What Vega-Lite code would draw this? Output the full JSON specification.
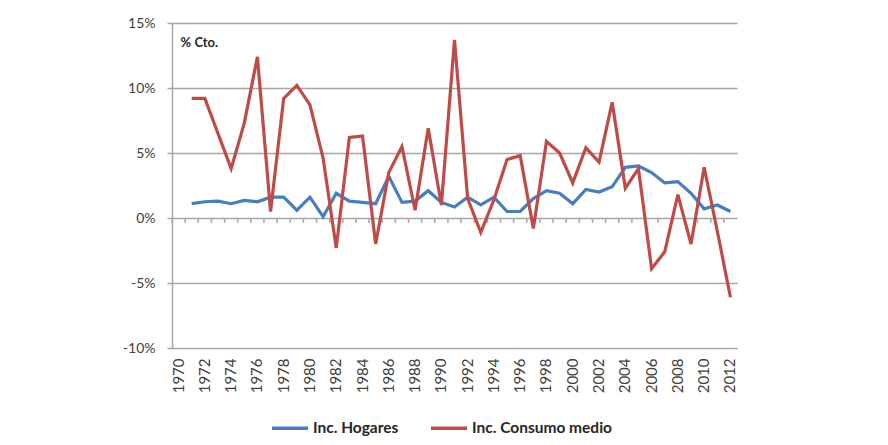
{
  "$schema": "https://vega.github.io/schema/vega-lite/v6.json",
  "width": 565,
  "height": 325,
  "autosize": {"type": "none"},
  "padding": {"left": 172, "top": 23, "right": 151, "bottom": 97},
  "background": "white",
  "config": {"view": {"stroke": null}, "font": "Lato"},
  "datasets": {
    "anios": [
      {"anio": "1970"},{"anio": "1971"},{"anio": "1972"},{"anio": "1973"},{"anio": "1974"},{"anio": "1975"},{"anio": "1976"},{"anio": "1977"},{"anio": "1978"},{"anio": "1979"},
      {"anio": "1980"},{"anio": "1981"},{"anio": "1982"},{"anio": "1983"},{"anio": "1984"},{"anio": "1985"},{"anio": "1986"},{"anio": "1987"},{"anio": "1988"},{"anio": "1989"},
      {"anio": "1990"},{"anio": "1991"},{"anio": "1992"},{"anio": "1993"},{"anio": "1994"},{"anio": "1995"},{"anio": "1996"},{"anio": "1997"},{"anio": "1998"},{"anio": "1999"},
      {"anio": "2000"},{"anio": "2001"},{"anio": "2002"},{"anio": "2003"},{"anio": "2004"},{"anio": "2005"},{"anio": "2006"},{"anio": "2007"},{"anio": "2008"},{"anio": "2009"},
      {"anio": "2010"},{"anio": "2011"},{"anio": "2012"}
    ],
    "series": [
      {"anio": "1971", "serie": "Inc. Hogares", "valor": 1.1},
      {"anio": "1972", "serie": "Inc. Hogares", "valor": 1.25},
      {"anio": "1973", "serie": "Inc. Hogares", "valor": 1.3},
      {"anio": "1974", "serie": "Inc. Hogares", "valor": 1.1},
      {"anio": "1975", "serie": "Inc. Hogares", "valor": 1.35},
      {"anio": "1976", "serie": "Inc. Hogares", "valor": 1.25},
      {"anio": "1977", "serie": "Inc. Hogares", "valor": 1.6},
      {"anio": "1978", "serie": "Inc. Hogares", "valor": 1.6},
      {"anio": "1979", "serie": "Inc. Hogares", "valor": 0.6},
      {"anio": "1980", "serie": "Inc. Hogares", "valor": 1.6},
      {"anio": "1981", "serie": "Inc. Hogares", "valor": 0.1},
      {"anio": "1982", "serie": "Inc. Hogares", "valor": 1.9},
      {"anio": "1983", "serie": "Inc. Hogares", "valor": 1.3},
      {"anio": "1984", "serie": "Inc. Hogares", "valor": 1.2},
      {"anio": "1985", "serie": "Inc. Hogares", "valor": 1.1},
      {"anio": "1986", "serie": "Inc. Hogares", "valor": 3.2},
      {"anio": "1987", "serie": "Inc. Hogares", "valor": 1.2},
      {"anio": "1988", "serie": "Inc. Hogares", "valor": 1.3},
      {"anio": "1989", "serie": "Inc. Hogares", "valor": 2.1},
      {"anio": "1990", "serie": "Inc. Hogares", "valor": 1.2},
      {"anio": "1991", "serie": "Inc. Hogares", "valor": 0.85},
      {"anio": "1992", "serie": "Inc. Hogares", "valor": 1.6},
      {"anio": "1993", "serie": "Inc. Hogares", "valor": 1.0},
      {"anio": "1994", "serie": "Inc. Hogares", "valor": 1.6},
      {"anio": "1995", "serie": "Inc. Hogares", "valor": 0.5},
      {"anio": "1996", "serie": "Inc. Hogares", "valor": 0.5},
      {"anio": "1997", "serie": "Inc. Hogares", "valor": 1.5},
      {"anio": "1998", "serie": "Inc. Hogares", "valor": 2.1},
      {"anio": "1999", "serie": "Inc. Hogares", "valor": 1.9},
      {"anio": "2000", "serie": "Inc. Hogares", "valor": 1.1},
      {"anio": "2001", "serie": "Inc. Hogares", "valor": 2.2},
      {"anio": "2002", "serie": "Inc. Hogares", "valor": 2.0},
      {"anio": "2003", "serie": "Inc. Hogares", "valor": 2.4},
      {"anio": "2004", "serie": "Inc. Hogares", "valor": 3.9},
      {"anio": "2005", "serie": "Inc. Hogares", "valor": 4.0},
      {"anio": "2006", "serie": "Inc. Hogares", "valor": 3.5},
      {"anio": "2007", "serie": "Inc. Hogares", "valor": 2.7},
      {"anio": "2008", "serie": "Inc. Hogares", "valor": 2.8},
      {"anio": "2009", "serie": "Inc. Hogares", "valor": 1.9},
      {"anio": "2010", "serie": "Inc. Hogares", "valor": 0.7},
      {"anio": "2011", "serie": "Inc. Hogares", "valor": 1.0},
      {"anio": "2012", "serie": "Inc. Hogares", "valor": 0.5},
      {"anio": "1971", "serie": "Inc. Consumo medio", "valor": 9.2},
      {"anio": "1972", "serie": "Inc. Consumo medio", "valor": 9.2},
      {"anio": "1973", "serie": "Inc. Consumo medio", "valor": 6.5},
      {"anio": "1974", "serie": "Inc. Consumo medio", "valor": 3.8},
      {"anio": "1975", "serie": "Inc. Consumo medio", "valor": 7.3},
      {"anio": "1976", "serie": "Inc. Consumo medio", "valor": 12.4},
      {"anio": "1977", "serie": "Inc. Consumo medio", "valor": 0.5},
      {"anio": "1978", "serie": "Inc. Consumo medio", "valor": 9.2},
      {"anio": "1979", "serie": "Inc. Consumo medio", "valor": 10.2},
      {"anio": "1980", "serie": "Inc. Consumo medio", "valor": 8.7},
      {"anio": "1981", "serie": "Inc. Consumo medio", "valor": 4.6},
      {"anio": "1982", "serie": "Inc. Consumo medio", "valor": -2.3},
      {"anio": "1983", "serie": "Inc. Consumo medio", "valor": 6.2},
      {"anio": "1984", "serie": "Inc. Consumo medio", "valor": 6.3},
      {"anio": "1985", "serie": "Inc. Consumo medio", "valor": -2.0},
      {"anio": "1986", "serie": "Inc. Consumo medio", "valor": 3.5},
      {"anio": "1987", "serie": "Inc. Consumo medio", "valor": 5.5},
      {"anio": "1988", "serie": "Inc. Consumo medio", "valor": 0.6},
      {"anio": "1989", "serie": "Inc. Consumo medio", "valor": 6.9},
      {"anio": "1990", "serie": "Inc. Consumo medio", "valor": 1.0},
      {"anio": "1991", "serie": "Inc. Consumo medio", "valor": 13.7},
      {"anio": "1992", "serie": "Inc. Consumo medio", "valor": 1.5},
      {"anio": "1993", "serie": "Inc. Consumo medio", "valor": -1.1},
      {"anio": "1994", "serie": "Inc. Consumo medio", "valor": 1.4},
      {"anio": "1995", "serie": "Inc. Consumo medio", "valor": 4.5},
      {"anio": "1996", "serie": "Inc. Consumo medio", "valor": 4.8},
      {"anio": "1997", "serie": "Inc. Consumo medio", "valor": -0.8},
      {"anio": "1998", "serie": "Inc. Consumo medio", "valor": 5.9},
      {"anio": "1999", "serie": "Inc. Consumo medio", "valor": 5.0},
      {"anio": "2000", "serie": "Inc. Consumo medio", "valor": 2.7},
      {"anio": "2001", "serie": "Inc. Consumo medio", "valor": 5.4},
      {"anio": "2002", "serie": "Inc. Consumo medio", "valor": 4.3},
      {"anio": "2003", "serie": "Inc. Consumo medio", "valor": 8.9},
      {"anio": "2004", "serie": "Inc. Consumo medio", "valor": 2.3},
      {"anio": "2005", "serie": "Inc. Consumo medio", "valor": 3.8},
      {"anio": "2006", "serie": "Inc. Consumo medio", "valor": -3.9},
      {"anio": "2007", "serie": "Inc. Consumo medio", "valor": -2.6},
      {"anio": "2008", "serie": "Inc. Consumo medio", "valor": 1.8},
      {"anio": "2009", "serie": "Inc. Consumo medio", "valor": -2.0},
      {"anio": "2010", "serie": "Inc. Consumo medio", "valor": 3.9},
      {"anio": "2011", "serie": "Inc. Consumo medio", "valor": -1.0},
      {"anio": "2012", "serie": "Inc. Consumo medio", "valor": -6.1}
    ]
  },
  "layer": [
    {
      "data": {"name": "anios"},
      "mark": {"type": "rule", "color": "#a6a6a6", "strokeWidth": 1.5},
      "encoding": {
        "x": {"field": "anio", "type": "ordinal", "bandPosition": 0,
              "scale": {"type": "band", "paddingInner": 0, "paddingOuter": 0}},
        "y": {"datum": 0, "type": "quantitative"},
        "y2": {"datum": -0.38}
      }
    },
    {
      "data": {"name": "series"},
      "mark": {"type": "line", "strokeWidth": 3.2},
      "encoding": {
        "x": {
          "field": "anio", "type": "ordinal", "bandPosition": 0.5,
          "scale": {"type": "band", "paddingInner": 0, "paddingOuter": 0,
            "domain": ["1970","1971","1972","1973","1974","1975","1976","1977","1978","1979","1980","1981","1982","1983","1984","1985","1986","1987","1988","1989","1990","1991","1992","1993","1994","1995","1996","1997","1998","1999","2000","2001","2002","2003","2004","2005","2006","2007","2008","2009","2010","2011","2012"]},
          "axis": {
            "title": null, "domain": false, "ticks": false, "grid": false,
            "values": ["1970","1972","1974","1976","1978","1980","1982","1984","1986","1988","1990","1992","1994","1996","1998","2000","2002","2004","2006","2008","2010","2012"],
            "labelAngle": -90, "labelAlign": "right", "labelBaseline": "middle",
            "labelPadding": 10, "labelFontSize": 15, "labelColor": "#404040", "labelFont": "Lato"
          }
        },
        "y": {
          "field": "valor", "type": "quantitative",
          "scale": {"domain": [-10, 15], "nice": false, "zero": false},
          "axis": {
            "title": null, "values": [-10, -5, 0, 5, 10, 15],
            "labelExpr": "datum.value + '%'",
            "grid": true, "gridColor": "#a6a6a6", "gridWidth": 1.5,
            "domain": true, "domainColor": "#a6a6a6", "domainWidth": 1.5,
            "ticks": true, "tickColor": "#a6a6a6", "tickWidth": 1.5, "tickSize": 5,
            "labelPadding": 12, "labelFontSize": 14, "labelColor": "#404040", "labelFont": "Lato"
          }
        },
        "color": {
          "field": "serie", "type": "nominal",
          "scale": {"domain": ["Inc. Hogares", "Inc. Consumo medio"], "range": ["#4A7EBB", "#BE4B48"]},
          "legend": {
            "title": null, "orient": "none", "direction": "horizontal",
            "legendX": 98, "legendY": 385,
            "symbolType": "stroke", "symbolSize": 1300, "symbolStrokeWidth": 3.5,
            "labelFontSize": 15.5, "labelFontWeight": "bold", "labelColor": "#262626", "labelFont": "Lato",
            "labelOffset": 3, "columnPadding": 24
          }
        }
      }
    },
    {
      "data": {"values": [{"etiqueta": "% Cto."}]},
      "mark": {"type": "text", "align": "left", "baseline": "middle", "dx": 2, "fontSize": 13, "fontWeight": "bold", "color": "#262626", "font": "Lato"},
      "encoding": {
        "x": {"datum": "1970", "type": "ordinal", "bandPosition": 0.5},
        "y": {"datum": 13.5, "type": "quantitative"},
        "text": {"field": "etiqueta"}
      }
    }
  ]
}
